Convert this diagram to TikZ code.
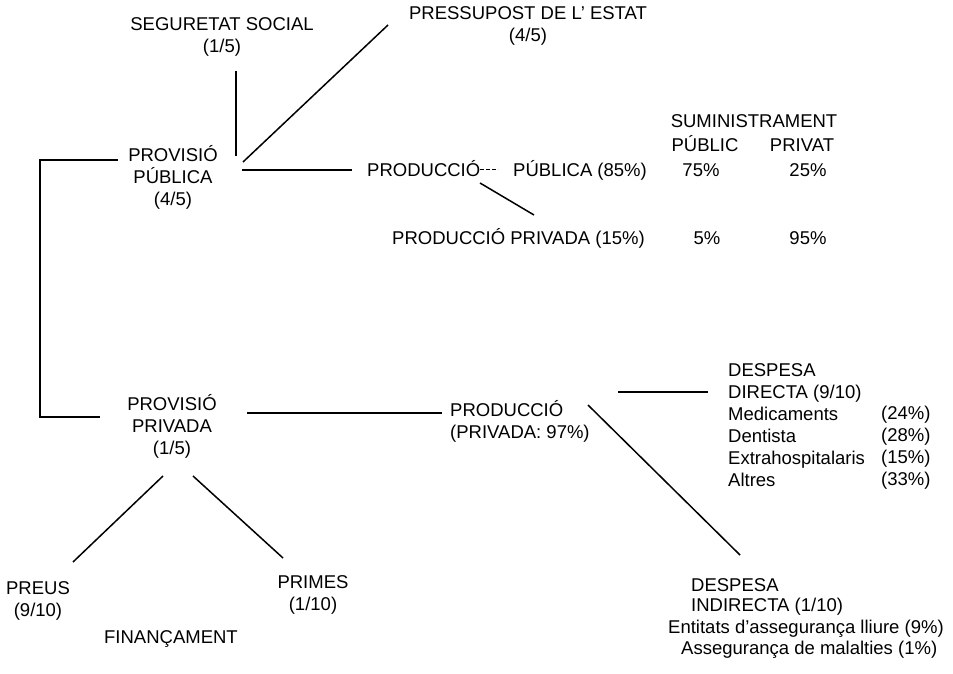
\documentclass[tikz,border=0pt]{standalone}
\usepackage{fontspec}
\setmainfont{Liberation Sans}
\newcommand\txtsz{\fontsize{18.5}{22}\selectfont}

\tikzset{
  lbl/.style={inner sep=0pt, font=\txtsz},
  lblc/.style={lbl, align=center},
  lbll/.style={lbl, align=left},
  link/.style={line width=1.5pt},
}

\begin{document}
\begin{tikzpicture}[x=1pt, y=-1pt]
\useasboundingbox (0,0) rectangle (953,674);

\node[lblc] (segsoc) at (222,37) {SEGURETAT SOCIAL\\(1/5)};
\node[lblc] (pressup) at (528,26) {PRESSUPOST DE L' ESTAT\\(4/5)};
\node[lblc] (pubprov) at (173,177) {PROVISIÓ\\PÚBLICA\\(4/5)};

\node[lbl, anchor=base west] (prodpub) at (367,176) {PRODUCCIÓ};
\node[lbl, anchor=base west] (pubpct) at (513,176) {PÚBLICA (85\%)};
\node[lbl, anchor=base west] (prodprv) at (392,244) {PRODUCCIÓ PRIVADA (15\%)};

\node[lbl, anchor=base] (supl) at (754,128) {SUMINISTRAMENT};
\node[lbl, anchor=base] (suppub) at (705,151) {PÚBLIC};
\node[lbl, anchor=base] (suppriv) at (802,151) {PRIVAT};
\node[lbl, anchor=base] (pubpub) at (701,176) {75\%};
\node[lbl, anchor=base] (pubpriv) at (808,176) {25\%};
\node[lbl, anchor=base] (prvpub) at (707,244) {5\%};
\node[lbl, anchor=base] (prvpriv) at (808,244) {95\%};

\node[lblc] (privprov) at (172,426) {PROVISIÓ\\PRIVADA\\(1/5)};
\node[lbll, anchor=west] (prodpriv) at (450,421) {PRODUCCIÓ\\(PRIVADA: 97\%)};

\node[lbll, anchor=north west] (directa) at (728,363)
  {DESPESA\\DIRECTA (9/10)\\Medicaments\\Dentista\\Extrahospitalaris\\Altres};
\node[lbll, anchor=north west] (dirpct) at (881,406) {(24\%)\\(28\%)\\(15\%)\\(33\%)};

\node[lbl, anchor=base west] (indir) at (691,591) {DESPESA};
\node[lbl, anchor=base west] (indir2) at (691,611) {INDIRECTA (1/10)};
\node[lbl, anchor=base west] (entitats) at (668,633) {Entitats d'assegurança lliure (9\%)};
\node[lbl, anchor=base west] (malalt) at (681,654) {Assegurança de malalties (1\%)};

\node[lblc] (preus) at (38,601) {PREUS\\(9/10)};
\node[lblc] (primes) at (313,595) {PRIMES\\(1/10)};
\node[lbl, anchor=base] (financ) at (171,643) {FINANÇAMENT};

\coordinate (segsoc-s) at (236,71);
\coordinate (pubprov-n) at (236,156);
\coordinate (pubprov-ne) at (243,162);
\coordinate (pressup-sw) at (388,25);
\coordinate (pubprov-e) at (242,170);
\coordinate (prodpub-w) at (352,170);
\coordinate (prodpub-e) at (480,169);
\coordinate (pubpct-w) at (498,169);
\coordinate (prodpub-s) at (480,183);
\coordinate (prodprv-n) at (534,215);
\coordinate (pubprov-w) at (118,160);
\coordinate (privprov-w) at (100,417);
\coordinate (privprov-e) at (247,413);
\coordinate (prodpriv-w) at (442,413);
\coordinate (prodpriv-e) at (618,392);
\coordinate (directa-w) at (708,392);
\coordinate (prodpriv-se) at (588,405);
\coordinate (indir-n) at (740,555);
\coordinate (privprov-sw) at (163,476);
\coordinate (preus-n) at (73,562);
\coordinate (privprov-se) at (193,476);
\coordinate (primes-n) at (283,558);

\draw[link] (segsoc-s) -- (pubprov-n);
\draw[link] (pubprov-ne) -- (pressup-sw);
\draw[link] (pubprov-e) -- (prodpub-w);
\draw[line width=1pt, dash pattern=on 4pt off 2pt] (prodpub-e) -- (pubpct-w);
\draw[link] (prodpub-s) -- (prodprv-n);
\draw[link] (pubprov-w) -| (40,417) -- (privprov-w);
\draw[link] (privprov-e) -- (prodpriv-w);
\draw[link] (prodpriv-e) -- (directa-w);
\draw[link] (prodpriv-se) -- (indir-n);
\draw[link] (privprov-sw) -- (preus-n);
\draw[link] (privprov-se) -- (primes-n);
\end{tikzpicture}
\end{document}
